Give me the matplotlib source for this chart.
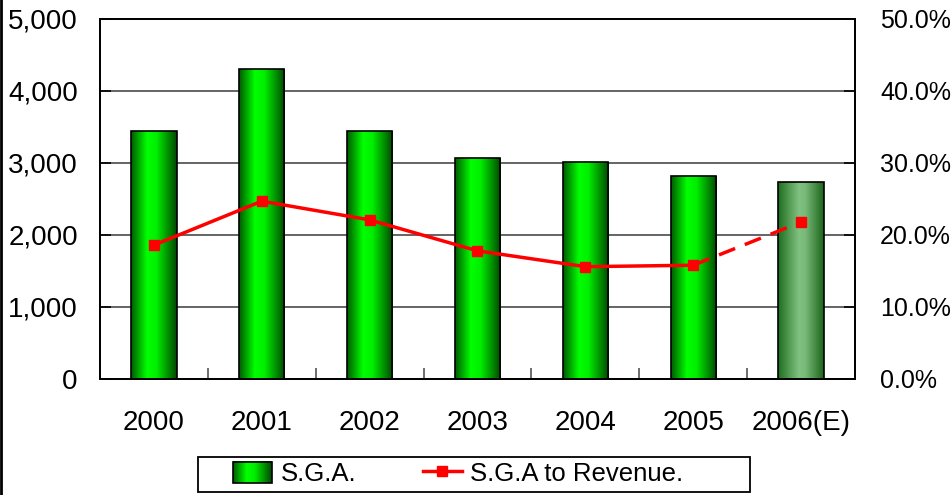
import numpy as np
import matplotlib
matplotlib.use('Agg')
import matplotlib.pyplot as plt
from matplotlib.colors import LinearSegmentedColormap
from matplotlib.patches import Rectangle
from matplotlib.lines import Line2D
from matplotlib.legend_handler import HandlerPatch

plt.rcParams['font.family'] = ['Liberation Sans', 'DejaVu Sans']

# ── data ──────────────────────────────────────────────────────────────────────
years    = ['2000', '2001', '2002', '2003', '2004', '2005', '2006(E)']
sga      = [3440, 4300, 3440, 3070, 3010, 2820, 2740]
sga_rev  = [18.6, 24.7, 22.1, 17.8, 15.6, 15.8, 21.8]   # percent
estimate = [False, False, False, False, False, False, True]

# ── colours ───────────────────────────────────────────────────────────────────
cm_actual = LinearSegmentedColormap.from_list(
    'act', [(0, '#005a00'), (0.35, '#00ff00'), (0.55, '#00f000'), (1, '#004800')])
cm_est = LinearSegmentedColormap.from_list(
    'est', [(0, '#1e6e1e'), (0.45, '#80c080'), (0.6, '#78b878'), (1, '#1a641a')])
grad = np.linspace(0, 1, 256).reshape(1, -1)

W, H = 953, 495
fig = plt.figure(figsize=(W / 100, H / 100), dpi=100)
ax = fig.add_axes([100 / W, 1 - 379 / H, 755 / W, 360 / H])
ax2 = ax.twinx()

x = np.arange(len(years))
bw = 0.42

for yv in [1000, 2000, 3000, 4000]:
    ax.axhline(yv, color='#4a4a4a', lw=1.2, zorder=0)

for xi, v, est in zip(x, sga, estimate):
    rect = Rectangle((xi - bw / 2, 0), bw, v, facecolor='none',
                     edgecolor='black', lw=1.2, zorder=3)
    ax.add_patch(rect)
    im = ax.imshow(grad, cmap=cm_est if est else cm_actual, aspect='auto',
                   extent=(xi - bw / 2, xi + bw / 2, 0, v), zorder=2,
                   interpolation='bilinear')
    im.set_clip_path(rect)

ax.set_xlim(-0.5, len(years) - 0.5)
ax.set_ylim(0, 5000)
ax2.set_ylim(0, 50)

# line: solid for actual years, dashed into the estimate
n_act = estimate.index(True)
ax2.plot(x[:n_act], sga_rev[:n_act], color='red', lw=2.5, zorder=5)
ax2.plot(x[n_act - 1:], sga_rev[n_act - 1:], color='red', lw=2.5,
         dashes=(5, 3), zorder=5)
ax2.plot(x, sga_rev, ls='none', marker='s', ms=7, color='red', zorder=6)

# ticks
ax.set_yticks(np.arange(0, 5001, 1000))
ax.set_yticklabels([f'{v:,}' for v in range(0, 5001, 1000)])
ax2.set_yticks(np.arange(0, 51, 10))
ax2.set_yticklabels([f'{v:.1f}%' for v in range(0, 51, 10)])
ax.set_xticks(x)
ax.set_xticklabels(years)
ax.set_xticks(np.arange(0.5, len(years) - 1, 1), minor=True)

ax.tick_params(axis='y', direction='in', length=8, width=1.2, labelsize=20, pad=16)
ax2.tick_params(axis='y', direction='in', length=8, width=1.2, labelsize=18, pad=18)
ax.tick_params(axis='x', which='major', length=0, labelsize=20, pad=22)
ax.tick_params(axis='x', which='minor', direction='in', length=8, width=1.2, color='#555555')

for a in (ax, ax2):
    for s in a.spines.values():
        s.set_linewidth(1.3)
        s.set_color('black')
ax.set_zorder(ax2.get_zorder() - 1)
ax2.patch.set_visible(False)


# legend with a gradient swatch
class GradientHandler(HandlerPatch):
    def create_artists(self, legend, orig_handle, xdescent, ydescent,
                       width, height, fontsize, trans):
        from matplotlib.image import BboxImage
        from matplotlib.transforms import Bbox, TransformedBbox
        bb = Bbox.from_bounds(-xdescent, -ydescent, width, height)
        img = BboxImage(TransformedBbox(bb, trans), cmap=cm_actual,
                        interpolation='bilinear')
        img.set_data(grad)
        r = Rectangle((-xdescent, -ydescent), width, height, facecolor='none',
                      edgecolor='black', lw=1.2, transform=trans)
        return [img, r]


bar_handle = Rectangle((0, 0), 1, 1)
line_handle = Line2D([], [], color='red', lw=2.5, marker='s', ms=7)
leg = fig.legend([bar_handle, line_handle], ['S.G.A.', 'S.G.A to Revenue.'],
                 handler_map={Rectangle: GradientHandler()},
                 loc='center left', bbox_to_anchor=(233 / W, 1 - 474 / H), ncol=2,
                 fontsize=18.5, frameon=False,
                 handlelength=1.5, handleheight=0.9, handletextpad=0.35,
                 columnspacing=2.6, borderpad=0, borderaxespad=0)

# legend frame drawn separately (content sits left of centre in the box)
fig.add_artist(Rectangle((198 / W, 1 - 492 / H), 552 / W, 35 / H,
                         transform=fig.transFigure, facecolor='none',
                         edgecolor='black', lw=1.3))

# left edge of the picture frame
fig.add_artist(Line2D([1 / W, 1 / W], [0, 1], color='black', lw=2,
                      transform=fig.transFigure))

fig.savefig('out.png', dpi=100)
